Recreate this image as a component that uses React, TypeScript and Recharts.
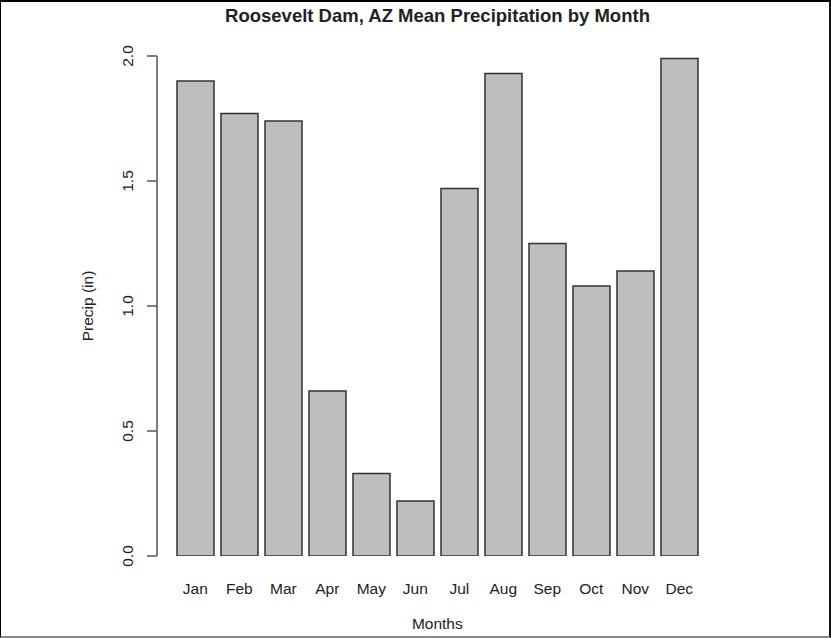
import { BarChart, Bar, XAxis, YAxis } from "recharts";

const MONTHS = ["Jan", "Feb", "Mar", "Apr", "May", "Jun", "Jul", "Aug", "Sep", "Oct", "Nov", "Dec"];
const PRECIP_IN = [1.9, 1.77, 1.74, 0.66, 0.33, 0.22, 1.47, 1.93, 1.25, 1.08, 1.14, 1.99];
const Y_TICKS = [0, 0.5, 1, 1.5, 2];

const data = MONTHS.map((month, i) => ({ month, precip: PRECIP_IN[i] }));

const FONT = '"Liberation Sans", Arial, Helvetica, sans-serif';
const INK = "#222";
const AXIS = "#555";
const PAD_LEFT = 16.33;

function YTick({ x, y, payload }: any) {
  const bx = x - 14;
  return (
    <text
      x={bx}
      y={y}
      transform={`rotate(-90, ${bx}, ${y})`}
      textAnchor="middle"
      fontFamily={FONT}
      fontSize={15.5}
      fill={INK}
    >
      {Number(payload.value).toFixed(1)}
    </text>
  );
}

function XTick({ x, y, payload }: any) {
  return (
    <text x={x} y={y + 37.5} textAnchor="middle" fontFamily={FONT} fontSize={15.5} fill={INK}>
      {payload.value}
    </text>
  );
}

function XTitle({ viewBox }: any) {
  const { x, y, width } = viewBox;
  const cx = x + PAD_LEFT + (width - PAD_LEFT) / 2;
  return (
    <text x={cx} y={y + 73} textAnchor="middle" fontFamily={FONT} fontSize={15.5} fill={INK}>
      Months
    </text>
  );
}

function YTitle({ viewBox }: any) {
  const { x, y, height } = viewBox;
  const bx = x + 93;
  const cy = y + height / 2;
  return (
    <text
      x={bx}
      y={cy}
      transform={`rotate(-90, ${bx}, ${cy})`}
      textAnchor="middle"
      fontFamily={FONT}
      fontSize={15.5}
      fill={INK}
    >
      Precip (in)
    </text>
  );
}

export default function App() {
  return (
    <div style={{ position: "absolute", left: 0, top: 0, width: 831, height: 638, background: "#fff" }}>
      <BarChart
        width={831}
        height={638}
        data={data}
        margin={{ top: 56, right: 129.67, bottom: 0, left: 0 }}
        barCategoryGap="8.33%"
      >
        <XAxis
          dataKey="month"
          height={82}
          padding={{ left: PAD_LEFT, right: 0 }}
          axisLine={false}
          tickLine={false}
          tickSize={0}
          tickMargin={0}
          tick={<XTick />}
          interval={0}
          label={{ content: <XTitle /> }}
        />
        <YAxis
          width={157}
          domain={[0, 2]}
          ticks={Y_TICKS}
          allowDataOverflow
          axisLine={{ stroke: AXIS, strokeWidth: 1.5 }}
          tickLine={{ stroke: AXIS, strokeWidth: 1.5 }}
          tickSize={10}
          tickMargin={0}
          tick={<YTick />}
          label={{ content: <YTitle /> }}
        />
        <Bar dataKey="precip" fill="#bebebe" stroke="#333" strokeWidth={1.5} isAnimationActive={false} />
      </BarChart>
      <div
        style={{
          position: "absolute",
          top: 6,
          left: 437.5,
          transform: "translateX(-50%)",
          whiteSpace: "nowrap",
          fontFamily: FONT,
          fontWeight: "bold",
          fontSize: 18.5,
          lineHeight: "20px",
          color: INK,
        }}
      >
        Roosevelt Dam, AZ Mean Precipitation by Month
      </div>
      <div
        style={{
          position: "absolute",
          inset: 0,
          boxSizing: "border-box",
          borderTop: "2px solid #000",
          borderLeft: "1px solid #000",
          borderRight: "2px solid #111",
          borderBottom: "2px solid #888",
          pointerEvents: "none",
        }}
      />
    </div>
  );
}
